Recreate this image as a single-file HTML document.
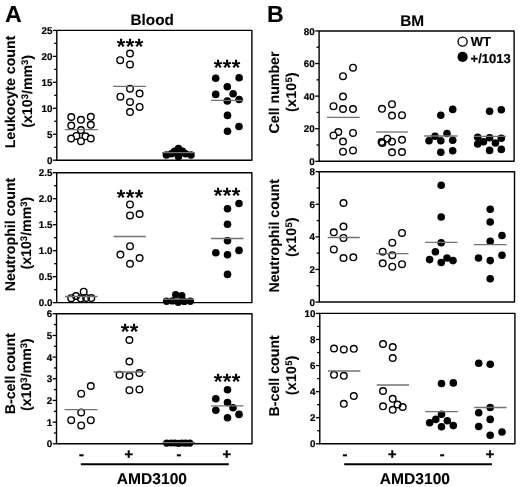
<!DOCTYPE html>
<html lang="en">
<head>
<meta charset="utf-8">
<title>Figure</title>
<style>
html,body{margin:0;padding:0;background:#fff;}
body{width:520px;height:487px;overflow:hidden;}
svg{display:block;}
text{font-family:'Liberation Sans', sans-serif;font-weight:bold;fill:#000;text-rendering:geometricPrecision;stroke:#000;stroke-width:0.1px;stroke-linejoin:round;}
.tk{font-size:9.8px;stroke-width:0.2px;}
.ti{font-size:15.1px;}
.pl{font-size:23.2px;}
.yl{font-size:14.2px;stroke-width:0.1px;}
.u3{letter-spacing:0px;}
.u5{letter-spacing:0.25px;}
.ls2{letter-spacing:0px;}
.sup{font-size:9.5px;}
.st{font-size:22px;stroke-width:0;letter-spacing:0.45px;}
.lg{font-size:13px;stroke-width:0.2px;}
.xl{font-size:14.5px;stroke-width:0.45px;}
.am{font-size:15.6px;}
</style>
</head>
<body>
<svg width="520" height="487" viewBox="0 0 520 487">
<rect x="0" y="0" width="520" height="487" fill="#fff"/>
<rect x="56.8" y="30.4" width="195.10" height="129.80" fill="none" stroke="#000" stroke-width="1.4" stroke-linejoin="round"/>
<line x1="52.90" y1="160.20" x2="56.8" y2="160.20" stroke="#000" stroke-width="1.3"/>
<text x="52.45" y="163.80" text-anchor="end" class="tk">0</text>
<line x1="54.20" y1="147.22" x2="56.8" y2="147.22" stroke="#000" stroke-width="1.3"/>
<line x1="52.90" y1="134.24" x2="56.8" y2="134.24" stroke="#000" stroke-width="1.3"/>
<text x="52.45" y="137.84" text-anchor="end" class="tk">5</text>
<line x1="54.20" y1="121.26" x2="56.8" y2="121.26" stroke="#000" stroke-width="1.3"/>
<line x1="52.90" y1="108.28" x2="56.8" y2="108.28" stroke="#000" stroke-width="1.3"/>
<text x="52.45" y="111.88" text-anchor="end" class="tk">10</text>
<line x1="54.20" y1="95.30" x2="56.8" y2="95.30" stroke="#000" stroke-width="1.3"/>
<line x1="52.90" y1="82.32" x2="56.8" y2="82.32" stroke="#000" stroke-width="1.3"/>
<text x="52.45" y="85.92" text-anchor="end" class="tk">15</text>
<line x1="54.20" y1="69.34" x2="56.8" y2="69.34" stroke="#000" stroke-width="1.3"/>
<line x1="52.90" y1="56.36" x2="56.8" y2="56.36" stroke="#000" stroke-width="1.3"/>
<text x="52.45" y="59.96" text-anchor="end" class="tk">20</text>
<line x1="54.20" y1="43.38" x2="56.8" y2="43.38" stroke="#000" stroke-width="1.3"/>
<line x1="52.90" y1="30.40" x2="56.8" y2="30.40" stroke="#000" stroke-width="1.3"/>
<text x="52.45" y="34.00" text-anchor="end" class="tk">25</text>
<rect x="56.7" y="172.75" width="195.20" height="129.90" fill="none" stroke="#000" stroke-width="1.4" stroke-linejoin="round"/>
<line x1="52.80" y1="302.65" x2="56.7" y2="302.65" stroke="#000" stroke-width="1.3"/>
<text x="52.35" y="306.25" text-anchor="end" class="tk">0.0</text>
<line x1="54.10" y1="289.66" x2="56.7" y2="289.66" stroke="#000" stroke-width="1.3"/>
<line x1="52.80" y1="276.67" x2="56.7" y2="276.67" stroke="#000" stroke-width="1.3"/>
<text x="52.35" y="280.27" text-anchor="end" class="tk">0.5</text>
<line x1="54.10" y1="263.68" x2="56.7" y2="263.68" stroke="#000" stroke-width="1.3"/>
<line x1="52.80" y1="250.69" x2="56.7" y2="250.69" stroke="#000" stroke-width="1.3"/>
<text x="52.35" y="254.29" text-anchor="end" class="tk">1.0</text>
<line x1="54.10" y1="237.70" x2="56.7" y2="237.70" stroke="#000" stroke-width="1.3"/>
<line x1="52.80" y1="224.71" x2="56.7" y2="224.71" stroke="#000" stroke-width="1.3"/>
<text x="52.35" y="228.31" text-anchor="end" class="tk">1.5</text>
<line x1="54.10" y1="211.72" x2="56.7" y2="211.72" stroke="#000" stroke-width="1.3"/>
<line x1="52.80" y1="198.73" x2="56.7" y2="198.73" stroke="#000" stroke-width="1.3"/>
<text x="52.35" y="202.33" text-anchor="end" class="tk">2.0</text>
<line x1="54.10" y1="185.74" x2="56.7" y2="185.74" stroke="#000" stroke-width="1.3"/>
<line x1="52.80" y1="172.75" x2="56.7" y2="172.75" stroke="#000" stroke-width="1.3"/>
<text x="52.35" y="176.35" text-anchor="end" class="tk">2.5</text>
<rect x="56.5" y="313.75" width="195.50" height="130.05" fill="none" stroke="#000" stroke-width="1.4" stroke-linejoin="round"/>
<line x1="52.60" y1="443.80" x2="56.5" y2="443.80" stroke="#000" stroke-width="1.3"/>
<text x="52.15" y="447.40" text-anchor="end" class="tk">0</text>
<line x1="53.90" y1="432.96" x2="56.5" y2="432.96" stroke="#000" stroke-width="1.3"/>
<line x1="52.60" y1="422.12" x2="56.5" y2="422.12" stroke="#000" stroke-width="1.3"/>
<text x="52.15" y="425.73" text-anchor="end" class="tk">1</text>
<line x1="53.90" y1="411.29" x2="56.5" y2="411.29" stroke="#000" stroke-width="1.3"/>
<line x1="52.60" y1="400.45" x2="56.5" y2="400.45" stroke="#000" stroke-width="1.3"/>
<text x="52.15" y="404.05" text-anchor="end" class="tk">2</text>
<line x1="53.90" y1="389.61" x2="56.5" y2="389.61" stroke="#000" stroke-width="1.3"/>
<line x1="52.60" y1="378.77" x2="56.5" y2="378.77" stroke="#000" stroke-width="1.3"/>
<text x="52.15" y="382.38" text-anchor="end" class="tk">3</text>
<line x1="53.90" y1="367.94" x2="56.5" y2="367.94" stroke="#000" stroke-width="1.3"/>
<line x1="52.60" y1="357.10" x2="56.5" y2="357.10" stroke="#000" stroke-width="1.3"/>
<text x="52.15" y="360.70" text-anchor="end" class="tk">4</text>
<line x1="53.90" y1="346.26" x2="56.5" y2="346.26" stroke="#000" stroke-width="1.3"/>
<line x1="52.60" y1="335.43" x2="56.5" y2="335.43" stroke="#000" stroke-width="1.3"/>
<text x="52.15" y="339.03" text-anchor="end" class="tk">5</text>
<line x1="53.90" y1="324.59" x2="56.5" y2="324.59" stroke="#000" stroke-width="1.3"/>
<line x1="52.60" y1="313.75" x2="56.5" y2="313.75" stroke="#000" stroke-width="1.3"/>
<text x="52.15" y="317.35" text-anchor="end" class="tk">6</text>
<rect x="319.1" y="30.95" width="195.00" height="130.35" fill="none" stroke="#000" stroke-width="1.4" stroke-linejoin="round"/>
<line x1="315.20" y1="161.30" x2="319.1" y2="161.30" stroke="#000" stroke-width="1.3"/>
<text x="314.70" y="164.90" text-anchor="end" class="tk">0</text>
<line x1="316.50" y1="145.01" x2="319.1" y2="145.01" stroke="#000" stroke-width="1.3"/>
<line x1="315.20" y1="128.71" x2="319.1" y2="128.71" stroke="#000" stroke-width="1.3"/>
<text x="314.70" y="132.31" text-anchor="end" class="tk">20</text>
<line x1="316.50" y1="112.42" x2="319.1" y2="112.42" stroke="#000" stroke-width="1.3"/>
<line x1="315.20" y1="96.12" x2="319.1" y2="96.12" stroke="#000" stroke-width="1.3"/>
<text x="314.70" y="99.72" text-anchor="end" class="tk">40</text>
<line x1="316.50" y1="79.83" x2="319.1" y2="79.83" stroke="#000" stroke-width="1.3"/>
<line x1="315.20" y1="63.54" x2="319.1" y2="63.54" stroke="#000" stroke-width="1.3"/>
<text x="314.70" y="67.14" text-anchor="end" class="tk">60</text>
<line x1="316.50" y1="47.24" x2="319.1" y2="47.24" stroke="#000" stroke-width="1.3"/>
<line x1="315.20" y1="30.95" x2="319.1" y2="30.95" stroke="#000" stroke-width="1.3"/>
<text x="314.70" y="34.55" text-anchor="end" class="tk">80</text>
<rect x="319.3" y="171.7" width="195.20" height="130.35" fill="none" stroke="#000" stroke-width="1.4" stroke-linejoin="round"/>
<line x1="315.40" y1="302.05" x2="319.3" y2="302.05" stroke="#000" stroke-width="1.3"/>
<text x="314.90" y="305.65" text-anchor="end" class="tk">0</text>
<line x1="316.70" y1="285.76" x2="319.3" y2="285.76" stroke="#000" stroke-width="1.3"/>
<line x1="315.40" y1="269.46" x2="319.3" y2="269.46" stroke="#000" stroke-width="1.3"/>
<text x="314.90" y="273.06" text-anchor="end" class="tk">2</text>
<line x1="316.70" y1="253.17" x2="319.3" y2="253.17" stroke="#000" stroke-width="1.3"/>
<line x1="315.40" y1="236.88" x2="319.3" y2="236.88" stroke="#000" stroke-width="1.3"/>
<text x="314.90" y="240.47" text-anchor="end" class="tk">4</text>
<line x1="316.70" y1="220.58" x2="319.3" y2="220.58" stroke="#000" stroke-width="1.3"/>
<line x1="315.40" y1="204.29" x2="319.3" y2="204.29" stroke="#000" stroke-width="1.3"/>
<text x="314.90" y="207.89" text-anchor="end" class="tk">6</text>
<line x1="316.70" y1="187.99" x2="319.3" y2="187.99" stroke="#000" stroke-width="1.3"/>
<line x1="315.40" y1="171.70" x2="319.3" y2="171.70" stroke="#000" stroke-width="1.3"/>
<text x="314.90" y="175.30" text-anchor="end" class="tk">8</text>
<rect x="319.8" y="313.4" width="195.10" height="130.40" fill="none" stroke="#000" stroke-width="1.4" stroke-linejoin="round"/>
<line x1="315.90" y1="443.80" x2="319.8" y2="443.80" stroke="#000" stroke-width="1.3"/>
<text x="315.40" y="447.40" text-anchor="end" class="tk">0</text>
<line x1="317.20" y1="430.76" x2="319.8" y2="430.76" stroke="#000" stroke-width="1.3"/>
<line x1="315.90" y1="417.72" x2="319.8" y2="417.72" stroke="#000" stroke-width="1.3"/>
<text x="315.40" y="421.32" text-anchor="end" class="tk">2</text>
<line x1="317.20" y1="404.68" x2="319.8" y2="404.68" stroke="#000" stroke-width="1.3"/>
<line x1="315.90" y1="391.64" x2="319.8" y2="391.64" stroke="#000" stroke-width="1.3"/>
<text x="315.40" y="395.24" text-anchor="end" class="tk">4</text>
<line x1="317.20" y1="378.60" x2="319.8" y2="378.60" stroke="#000" stroke-width="1.3"/>
<line x1="315.90" y1="365.56" x2="319.8" y2="365.56" stroke="#000" stroke-width="1.3"/>
<text x="315.40" y="369.16" text-anchor="end" class="tk">6</text>
<line x1="317.20" y1="352.52" x2="319.8" y2="352.52" stroke="#000" stroke-width="1.3"/>
<line x1="315.90" y1="339.48" x2="319.8" y2="339.48" stroke="#000" stroke-width="1.3"/>
<text x="315.40" y="343.08" text-anchor="end" class="tk">8</text>
<line x1="317.20" y1="326.44" x2="319.8" y2="326.44" stroke="#000" stroke-width="1.3"/>
<line x1="315.90" y1="313.40" x2="319.8" y2="313.40" stroke="#000" stroke-width="1.3"/>
<text x="315.40" y="317.00" text-anchor="end" class="tk">10</text>
<text x="152.2" y="25.3" text-anchor="middle" class="ti" style="font-size:15.3px">Blood</text>
<text x="412.2" y="25.6" text-anchor="middle" class="ti" style="font-size:15.4px">BM</text>
<text x="4.9" y="21.7" class="pl">A</text>
<text x="266.9" y="22.0" class="pl">B</text>
<text transform="translate(15.1,92.0) rotate(-90)" text-anchor="middle" class="yl">Leukocyte count</text>
<text transform="translate(31.7,91.3) rotate(-90)" text-anchor="middle" class="yl u3">(x10<tspan class="sup" dy="-4.1">3</tspan><tspan dy="4.1">/mm</tspan><tspan class="sup" dy="-4.1">3</tspan><tspan dy="4.1">)</tspan></text>
<text transform="translate(14.8,234.45) rotate(-90)" text-anchor="middle" class="yl ls2">Neutrophil count</text>
<text transform="translate(31.4,233.1) rotate(-90)" text-anchor="middle" class="yl u3">(x10<tspan class="sup" dy="-4.1">3</tspan><tspan dy="4.1">/mm</tspan><tspan class="sup" dy="-4.1">3</tspan><tspan dy="4.1">)</tspan></text>
<text transform="translate(14.8,373.7) rotate(-90)" text-anchor="middle" class="yl">B-cell count</text>
<text transform="translate(31.2,374.6) rotate(-90)" text-anchor="middle" class="yl u3">(x10<tspan class="sup" dy="-4.1">3</tspan><tspan dy="4.1">/mm</tspan><tspan class="sup" dy="-4.1">3</tspan><tspan dy="4.1">)</tspan></text>
<text transform="translate(278.7,92.5) rotate(-90)" text-anchor="middle" class="yl">Cell number</text>
<text transform="translate(296.0,92.0) rotate(-90)" text-anchor="middle" class="yl u5">(x10<tspan class="sup" dy="-4.1">5</tspan><tspan dy="4.1">)</tspan></text>
<text transform="translate(278.7,235.8) rotate(-90)" text-anchor="middle" class="yl">Neutrophil count</text>
<text transform="translate(296.0,237) rotate(-90)" text-anchor="middle" class="yl u5">(x10<tspan class="sup" dy="-4.1">5</tspan><tspan dy="4.1">)</tspan></text>
<text transform="translate(279.0,375.8) rotate(-90)" text-anchor="middle" class="yl">B-cell count</text>
<text transform="translate(296.2,375.2) rotate(-90)" text-anchor="middle" class="yl u5">(x10<tspan class="sup" dy="-4.1">5</tspan><tspan dy="4.1">)</tspan></text>
<circle cx="71.25" cy="117.0" r="3.3" fill="#fff" stroke="#000" stroke-width="1.4"/>
<circle cx="80.95" cy="119.85" r="3.3" fill="#fff" stroke="#000" stroke-width="1.4"/>
<circle cx="90.8" cy="116.8" r="3.3" fill="#fff" stroke="#000" stroke-width="1.4"/>
<circle cx="71.25" cy="125.6" r="3.3" fill="#fff" stroke="#000" stroke-width="1.4"/>
<circle cx="90.8" cy="124.8" r="3.3" fill="#fff" stroke="#000" stroke-width="1.4"/>
<circle cx="80.95" cy="130.1" r="3.3" fill="#fff" stroke="#000" stroke-width="1.4"/>
<circle cx="76.4" cy="135.9" r="3.3" fill="#fff" stroke="#000" stroke-width="1.4"/>
<circle cx="85.5" cy="136.3" r="3.3" fill="#fff" stroke="#000" stroke-width="1.4"/>
<circle cx="71.1" cy="138.5" r="3.3" fill="#fff" stroke="#000" stroke-width="1.4"/>
<circle cx="90.8" cy="138.5" r="3.3" fill="#fff" stroke="#000" stroke-width="1.4"/>
<circle cx="80.95" cy="141.2" r="3.3" fill="#fff" stroke="#000" stroke-width="1.4"/>
<circle cx="130" cy="53.5" r="3.3" fill="#fff" stroke="#000" stroke-width="1.4"/>
<circle cx="120.2" cy="60.2" r="3.3" fill="#fff" stroke="#000" stroke-width="1.4"/>
<circle cx="130" cy="64.4" r="3.3" fill="#fff" stroke="#000" stroke-width="1.4"/>
<circle cx="130" cy="88.7" r="3.3" fill="#fff" stroke="#000" stroke-width="1.4"/>
<circle cx="139.6" cy="93.5" r="3.3" fill="#fff" stroke="#000" stroke-width="1.4"/>
<circle cx="120.4" cy="96.7" r="3.3" fill="#fff" stroke="#000" stroke-width="1.4"/>
<circle cx="130" cy="101.9" r="3.3" fill="#fff" stroke="#000" stroke-width="1.4"/>
<circle cx="139.6" cy="106.9" r="3.3" fill="#fff" stroke="#000" stroke-width="1.4"/>
<circle cx="130" cy="112.1" r="3.3" fill="#fff" stroke="#000" stroke-width="1.4"/>
<text x="130.20" y="53.50" text-anchor="middle" class="st">***</text>
<circle cx="166.4" cy="155.0" r="3.8" fill="#000"/>
<circle cx="191.0" cy="155.0" r="3.8" fill="#000"/>
<circle cx="178.5" cy="156.5" r="3.8" fill="#000"/>
<circle cx="171.5" cy="153.7" r="3.8" fill="#000"/>
<circle cx="185.5" cy="153.7" r="3.8" fill="#000"/>
<circle cx="174.5" cy="151.2" r="3.8" fill="#000"/>
<circle cx="182.5" cy="151.2" r="3.8" fill="#000"/>
<circle cx="178.5" cy="148.6" r="3.8" fill="#000"/>
<circle cx="215.7" cy="78.2" r="3.8" fill="#000"/>
<circle cx="239.1" cy="77.8" r="3.8" fill="#000"/>
<circle cx="227.3" cy="86.7" r="3.8" fill="#000"/>
<circle cx="215.7" cy="94.4" r="3.8" fill="#000"/>
<circle cx="233.1" cy="93.7" r="3.8" fill="#000"/>
<circle cx="227.3" cy="101" r="3.8" fill="#000"/>
<circle cx="239.1" cy="99.5" r="3.8" fill="#000"/>
<circle cx="227.5" cy="115.4" r="3.8" fill="#000"/>
<circle cx="239" cy="126.5" r="3.8" fill="#000"/>
<circle cx="227.5" cy="131.3" r="3.8" fill="#000"/>
<text x="227.20" y="75.00" text-anchor="middle" class="st">***</text>
<circle cx="83.7" cy="291.7" r="3.3" fill="none" stroke="#000" stroke-width="1.4"/>
<circle cx="76.0" cy="296.0" r="3.3" fill="none" stroke="#000" stroke-width="1.4"/>
<circle cx="71.2" cy="298.2" r="3.3" fill="none" stroke="#000" stroke-width="1.4"/>
<circle cx="80.8" cy="298.6" r="3.3" fill="none" stroke="#000" stroke-width="1.4"/>
<circle cx="86.1" cy="298" r="3.3" fill="none" stroke="#000" stroke-width="1.4"/>
<circle cx="91.3" cy="298.1" r="3.3" fill="none" stroke="#000" stroke-width="1.4"/>
<circle cx="130" cy="204.4" r="3.3" fill="#fff" stroke="#000" stroke-width="1.4"/>
<circle cx="130" cy="215.4" r="3.3" fill="#fff" stroke="#000" stroke-width="1.4"/>
<circle cx="139.6" cy="214" r="3.3" fill="#fff" stroke="#000" stroke-width="1.4"/>
<circle cx="130" cy="246.2" r="3.3" fill="#fff" stroke="#000" stroke-width="1.4"/>
<circle cx="120.4" cy="254.6" r="3.3" fill="#fff" stroke="#000" stroke-width="1.4"/>
<circle cx="139.6" cy="258" r="3.3" fill="#fff" stroke="#000" stroke-width="1.4"/>
<circle cx="130" cy="263.8" r="3.3" fill="#fff" stroke="#000" stroke-width="1.4"/>
<text x="130.20" y="204.50" text-anchor="middle" class="st">***</text>
<circle cx="175.7" cy="294.7" r="3.7" fill="#000"/>
<circle cx="181.8" cy="295.8" r="3.7" fill="#000"/>
<circle cx="166.6" cy="301.2" r="3.7" fill="#000"/>
<circle cx="172.3" cy="300.9" r="3.7" fill="#000"/>
<circle cx="178.2" cy="302.3" r="3.7" fill="#000"/>
<circle cx="184.2" cy="301.4" r="3.7" fill="#000"/>
<circle cx="190.3" cy="301.3" r="3.7" fill="#000"/>
<circle cx="239" cy="203.5" r="3.8" fill="#000"/>
<circle cx="227.5" cy="208.7" r="3.8" fill="#000"/>
<circle cx="227.5" cy="224.2" r="3.8" fill="#000"/>
<circle cx="227.5" cy="240.8" r="3.8" fill="#000"/>
<circle cx="215.8" cy="252.7" r="3.8" fill="#000"/>
<circle cx="239" cy="250.4" r="3.8" fill="#000"/>
<circle cx="227.5" cy="254.8" r="3.8" fill="#000"/>
<circle cx="227.5" cy="274.4" r="3.8" fill="#000"/>
<text x="227.20" y="202.50" text-anchor="middle" class="st">***</text>
<circle cx="90.8" cy="386" r="3.3" fill="#fff" stroke="#000" stroke-width="1.4"/>
<circle cx="81.2" cy="393.7" r="3.3" fill="#fff" stroke="#000" stroke-width="1.4"/>
<circle cx="81.2" cy="412.5" r="3.3" fill="#fff" stroke="#000" stroke-width="1.4"/>
<circle cx="71.2" cy="420.2" r="3.3" fill="#fff" stroke="#000" stroke-width="1.4"/>
<circle cx="90.8" cy="420.2" r="3.3" fill="#fff" stroke="#000" stroke-width="1.4"/>
<circle cx="81.2" cy="425.4" r="3.3" fill="#fff" stroke="#000" stroke-width="1.4"/>
<circle cx="129.4" cy="340" r="3.3" fill="none" stroke="#000" stroke-width="1.4"/>
<circle cx="129.4" cy="361.5" r="3.3" fill="none" stroke="#000" stroke-width="1.4"/>
<circle cx="139.4" cy="373" r="3.3" fill="none" stroke="#000" stroke-width="1.4"/>
<circle cx="119.6" cy="374.8" r="3.3" fill="none" stroke="#000" stroke-width="1.4"/>
<circle cx="129.4" cy="376" r="3.3" fill="none" stroke="#000" stroke-width="1.4"/>
<circle cx="129.4" cy="390.2" r="3.3" fill="none" stroke="#000" stroke-width="1.4"/>
<circle cx="139.4" cy="389.4" r="3.3" fill="none" stroke="#000" stroke-width="1.4"/>
<text x="129.80" y="338.50" text-anchor="middle" class="st">**</text>
<circle cx="166.7" cy="443.1" r="3.6" fill="#000"/>
<circle cx="171.2" cy="443.0" r="3.6" fill="#000"/>
<circle cx="174.8" cy="443.0" r="3.6" fill="#000"/>
<circle cx="178.4" cy="443.3" r="3.6" fill="#000"/>
<circle cx="182.0" cy="443.0" r="3.6" fill="#000"/>
<circle cx="185.6" cy="443.2" r="3.6" fill="#000"/>
<circle cx="189.8" cy="443.1" r="3.6" fill="#000"/>
<circle cx="227.5" cy="389.8" r="3.8" fill="#000"/>
<circle cx="215.8" cy="398.7" r="3.8" fill="#000"/>
<circle cx="227.5" cy="402.5" r="3.8" fill="#000"/>
<circle cx="233" cy="407.7" r="3.8" fill="#000"/>
<circle cx="215.8" cy="410.2" r="3.8" fill="#000"/>
<circle cx="239" cy="414.4" r="3.8" fill="#000"/>
<circle cx="227.5" cy="417.7" r="3.8" fill="#000"/>
<text x="227.20" y="389.00" text-anchor="middle" class="st">***</text>
<circle cx="353" cy="67.7" r="3.3" fill="#fff" stroke="#000" stroke-width="1.4"/>
<circle cx="343" cy="76.2" r="3.3" fill="#fff" stroke="#000" stroke-width="1.4"/>
<circle cx="343" cy="96.5" r="3.3" fill="#fff" stroke="#000" stroke-width="1.4"/>
<circle cx="333.5" cy="106.2" r="3.3" fill="#fff" stroke="#000" stroke-width="1.4"/>
<circle cx="343" cy="109" r="3.3" fill="#fff" stroke="#000" stroke-width="1.4"/>
<circle cx="353" cy="109" r="3.3" fill="#fff" stroke="#000" stroke-width="1.4"/>
<circle cx="338.3" cy="132" r="3.3" fill="#fff" stroke="#000" stroke-width="1.4"/>
<circle cx="333.5" cy="135.4" r="3.3" fill="#fff" stroke="#000" stroke-width="1.4"/>
<circle cx="353" cy="132.9" r="3.3" fill="#fff" stroke="#000" stroke-width="1.4"/>
<circle cx="343" cy="141.5" r="3.3" fill="#fff" stroke="#000" stroke-width="1.4"/>
<circle cx="343" cy="151.7" r="3.3" fill="#fff" stroke="#000" stroke-width="1.4"/>
<circle cx="353" cy="150.4" r="3.3" fill="#fff" stroke="#000" stroke-width="1.4"/>
<circle cx="392" cy="104.2" r="3.3" fill="none" stroke="#000" stroke-width="1.4"/>
<circle cx="382" cy="108.8" r="3.3" fill="none" stroke="#000" stroke-width="1.4"/>
<circle cx="392" cy="115.6" r="3.3" fill="none" stroke="#000" stroke-width="1.4"/>
<circle cx="402" cy="115.2" r="3.3" fill="none" stroke="#000" stroke-width="1.4"/>
<circle cx="387.3" cy="138.7" r="3.3" fill="none" stroke="#000" stroke-width="1.4"/>
<circle cx="402" cy="139.8" r="3.3" fill="none" stroke="#000" stroke-width="1.4"/>
<circle cx="381.6" cy="142.0" r="3.3" fill="none" stroke="#000" stroke-width="1.4"/>
<circle cx="382.4" cy="143.0" r="3.3" fill="none" stroke="#000" stroke-width="1.4"/>
<circle cx="392" cy="141.7" r="3.3" fill="none" stroke="#000" stroke-width="1.4"/>
<circle cx="392" cy="152.3" r="3.3" fill="none" stroke="#000" stroke-width="1.4"/>
<circle cx="402" cy="152" r="3.3" fill="none" stroke="#000" stroke-width="1.4"/>
<circle cx="452.7" cy="109.4" r="3.8" fill="#000"/>
<circle cx="440.8" cy="115.2" r="3.8" fill="#000"/>
<circle cx="447" cy="133.5" r="3.8" fill="#000"/>
<circle cx="435" cy="136.3" r="3.8" fill="#000"/>
<circle cx="429" cy="140.8" r="3.8" fill="#000"/>
<circle cx="440.8" cy="140.8" r="3.8" fill="#000"/>
<circle cx="452.7" cy="140.2" r="3.8" fill="#000"/>
<circle cx="440.8" cy="152.3" r="3.8" fill="#000"/>
<circle cx="452.7" cy="150.8" r="3.8" fill="#000"/>
<circle cx="489.6" cy="111.3" r="3.8" fill="#000"/>
<circle cx="501.3" cy="109.8" r="3.8" fill="#000"/>
<circle cx="477.7" cy="137.3" r="3.8" fill="#000"/>
<circle cx="489.6" cy="137.7" r="3.8" fill="#000"/>
<circle cx="501.3" cy="138.3" r="3.8" fill="#000"/>
<circle cx="483.5" cy="141.7" r="3.8" fill="#000"/>
<circle cx="495.4" cy="143" r="3.8" fill="#000"/>
<circle cx="477.7" cy="144" r="3.8" fill="#000"/>
<circle cx="489.6" cy="150.4" r="3.8" fill="#000"/>
<circle cx="501.3" cy="149.4" r="3.8" fill="#000"/>
<circle cx="462.6" cy="41.6" r="4.55" fill="#fff" stroke="#000" stroke-width="1.35"/>
<circle cx="462.6" cy="56.9" r="5.1" fill="#000"/>
<text x="470.8" y="46.1" class="lg">WT</text>
<text x="470.6" y="63.1" class="lg">+/1013</text>
<circle cx="343.5" cy="203" r="3.3" fill="none" stroke="#000" stroke-width="1.4"/>
<circle cx="343.5" cy="226.5" r="3.3" fill="none" stroke="#000" stroke-width="1.4"/>
<circle cx="333.8" cy="232.3" r="3.3" fill="none" stroke="#000" stroke-width="1.4"/>
<circle cx="343.5" cy="237.9" r="3.3" fill="none" stroke="#000" stroke-width="1.4"/>
<circle cx="333.8" cy="249.4" r="3.3" fill="none" stroke="#000" stroke-width="1.4"/>
<circle cx="343.5" cy="258" r="3.3" fill="none" stroke="#000" stroke-width="1.4"/>
<circle cx="353.3" cy="257.3" r="3.3" fill="none" stroke="#000" stroke-width="1.4"/>
<circle cx="402" cy="232.9" r="3.3" fill="none" stroke="#000" stroke-width="1.4"/>
<circle cx="392.3" cy="242.7" r="3.3" fill="none" stroke="#000" stroke-width="1.4"/>
<circle cx="382.7" cy="251.7" r="3.3" fill="none" stroke="#000" stroke-width="1.4"/>
<circle cx="392.3" cy="255.2" r="3.3" fill="none" stroke="#000" stroke-width="1.4"/>
<circle cx="382.7" cy="263.3" r="3.3" fill="none" stroke="#000" stroke-width="1.4"/>
<circle cx="402" cy="264.2" r="3.3" fill="none" stroke="#000" stroke-width="1.4"/>
<circle cx="392.3" cy="266.7" r="3.3" fill="none" stroke="#000" stroke-width="1.4"/>
<circle cx="441.2" cy="185.2" r="3.8" fill="#000"/>
<circle cx="441.2" cy="217" r="3.8" fill="#000"/>
<circle cx="441.2" cy="242.7" r="3.8" fill="#000"/>
<circle cx="435.4" cy="251.7" r="3.8" fill="#000"/>
<circle cx="429.6" cy="259.6" r="3.8" fill="#000"/>
<circle cx="447" cy="258" r="3.8" fill="#000"/>
<circle cx="441.2" cy="262.5" r="3.8" fill="#000"/>
<circle cx="453" cy="260.6" r="3.8" fill="#000"/>
<circle cx="490.2" cy="209.2" r="3.8" fill="#000"/>
<circle cx="490.2" cy="222" r="3.8" fill="#000"/>
<circle cx="502" cy="235.5" r="3.8" fill="#000"/>
<circle cx="490.2" cy="241.3" r="3.8" fill="#000"/>
<circle cx="502" cy="255.2" r="3.8" fill="#000"/>
<circle cx="478.5" cy="258" r="3.8" fill="#000"/>
<circle cx="490.2" cy="260.6" r="3.8" fill="#000"/>
<circle cx="490.2" cy="278.8" r="3.8" fill="#000"/>
<circle cx="334" cy="348.5" r="3.3" fill="none" stroke="#000" stroke-width="1.4"/>
<circle cx="343.8" cy="349.4" r="3.3" fill="none" stroke="#000" stroke-width="1.4"/>
<circle cx="353.8" cy="348.8" r="3.3" fill="none" stroke="#000" stroke-width="1.4"/>
<circle cx="334" cy="374.8" r="3.3" fill="none" stroke="#000" stroke-width="1.4"/>
<circle cx="343.8" cy="375.8" r="3.3" fill="none" stroke="#000" stroke-width="1.4"/>
<circle cx="353.8" cy="396" r="3.3" fill="none" stroke="#000" stroke-width="1.4"/>
<circle cx="343.8" cy="403.8" r="3.3" fill="none" stroke="#000" stroke-width="1.4"/>
<circle cx="383" cy="344" r="3.3" fill="none" stroke="#000" stroke-width="1.4"/>
<circle cx="392.7" cy="347" r="3.3" fill="none" stroke="#000" stroke-width="1.4"/>
<circle cx="392.7" cy="358" r="3.3" fill="none" stroke="#000" stroke-width="1.4"/>
<circle cx="383" cy="391" r="3.3" fill="none" stroke="#000" stroke-width="1.4"/>
<circle cx="392.7" cy="398.8" r="3.3" fill="none" stroke="#000" stroke-width="1.4"/>
<circle cx="383" cy="406.3" r="3.3" fill="none" stroke="#000" stroke-width="1.4"/>
<circle cx="397.5" cy="404.6" r="3.3" fill="none" stroke="#000" stroke-width="1.4"/>
<circle cx="402.7" cy="407" r="3.3" fill="none" stroke="#000" stroke-width="1.4"/>
<circle cx="392.7" cy="409.8" r="3.3" fill="none" stroke="#000" stroke-width="1.4"/>
<circle cx="441.5" cy="383.5" r="3.8" fill="#000"/>
<circle cx="453.3" cy="382.9" r="3.8" fill="#000"/>
<circle cx="441.5" cy="414.2" r="3.8" fill="#000"/>
<circle cx="435.8" cy="419.4" r="3.8" fill="#000"/>
<circle cx="429.6" cy="422.7" r="3.8" fill="#000"/>
<circle cx="447.3" cy="420.8" r="3.8" fill="#000"/>
<circle cx="441.5" cy="426.7" r="3.8" fill="#000"/>
<circle cx="453.3" cy="425.6" r="3.8" fill="#000"/>
<circle cx="478.7" cy="363.3" r="3.8" fill="#000"/>
<circle cx="490.2" cy="364.2" r="3.8" fill="#000"/>
<circle cx="490.2" cy="407.5" r="3.8" fill="#000"/>
<circle cx="478.7" cy="412.7" r="3.8" fill="#000"/>
<circle cx="490.2" cy="419.4" r="3.8" fill="#000"/>
<circle cx="478.7" cy="426.5" r="3.8" fill="#000"/>
<circle cx="490.2" cy="435.2" r="3.8" fill="#000"/>
<circle cx="502" cy="432" r="3.8" fill="#000"/>
<line x1="64.9" y1="129.7" x2="97.8" y2="129.7" stroke="#727272" stroke-width="1.3"/>
<line x1="113.3" y1="86.3" x2="146" y2="86.3" stroke="#727272" stroke-width="1.3"/>
<line x1="162" y1="152.6" x2="194.9" y2="152.6" stroke="#727272" stroke-width="1.3"/>
<line x1="211" y1="100.4" x2="243.4" y2="100.4" stroke="#727272" stroke-width="1.3"/>
<line x1="65" y1="296.5" x2="97.5" y2="296.5" stroke="#727272" stroke-width="1.3"/>
<line x1="113.8" y1="236.5" x2="145.8" y2="236.5" stroke="#727272" stroke-width="1.3"/>
<line x1="163" y1="299.2" x2="194.3" y2="299.2" stroke="#727272" stroke-width="1.3"/>
<line x1="211" y1="238.5" x2="243.5" y2="238.5" stroke="#727272" stroke-width="1.3"/>
<line x1="64.6" y1="409.6" x2="97.5" y2="409.6" stroke="#727272" stroke-width="1.3"/>
<line x1="113.5" y1="372" x2="145.8" y2="372" stroke="#727272" stroke-width="1.3"/>
<line x1="162.7" y1="442.7" x2="195" y2="442.7" stroke="#727272" stroke-width="1.3"/>
<line x1="211" y1="405.8" x2="243.5" y2="405.8" stroke="#727272" stroke-width="1.3"/>
<line x1="327" y1="117.3" x2="359.8" y2="117.3" stroke="#727272" stroke-width="1.3"/>
<line x1="376.2" y1="132" x2="408" y2="132" stroke="#727272" stroke-width="1.3"/>
<line x1="424.2" y1="136" x2="457.5" y2="136" stroke="#727272" stroke-width="1.3"/>
<line x1="473.8" y1="136.3" x2="506" y2="136.3" stroke="#727272" stroke-width="1.3"/>
<line x1="327.7" y1="237.5" x2="359.8" y2="237.5" stroke="#727272" stroke-width="1.3"/>
<line x1="376.2" y1="253.7" x2="408.5" y2="253.7" stroke="#727272" stroke-width="1.3"/>
<line x1="425.2" y1="242.3" x2="457.5" y2="242.3" stroke="#727272" stroke-width="1.3"/>
<line x1="473.8" y1="244.6" x2="506.5" y2="244.6" stroke="#727272" stroke-width="1.3"/>
<line x1="328" y1="371" x2="360.4" y2="371" stroke="#727272" stroke-width="1.3"/>
<line x1="376.7" y1="385" x2="409" y2="385" stroke="#727272" stroke-width="1.3"/>
<line x1="425.4" y1="411.7" x2="457.9" y2="411.7" stroke="#727272" stroke-width="1.3"/>
<line x1="474.2" y1="407.5" x2="506.5" y2="407.5" stroke="#727272" stroke-width="1.3"/>
<text x="81.5" y="459.0" text-anchor="middle" class="xl">-</text>
<text x="128.8" y="459.0" text-anchor="middle" class="xl">+</text>
<text x="178.9" y="459.0" text-anchor="middle" class="xl">-</text>
<text x="226.7" y="459.0" text-anchor="middle" class="xl">+</text>
<line x1="80.8" y1="464.3" x2="228.8" y2="464.3" stroke="#000" stroke-width="1.9"/>
<text x="151.9" y="484.0" text-anchor="middle" class="am">AMD3100</text>
<text x="345" y="459.0" text-anchor="middle" class="xl">-</text>
<text x="392.2" y="459.0" text-anchor="middle" class="xl">+</text>
<text x="442.2" y="459.0" text-anchor="middle" class="xl">-</text>
<text x="490" y="459.0" text-anchor="middle" class="xl">+</text>
<line x1="344.2" y1="464.3" x2="491.9" y2="464.3" stroke="#000" stroke-width="1.9"/>
<text x="414.9" y="484.0" text-anchor="middle" class="am">AMD3100</text>
</svg>
</body>
</html>
